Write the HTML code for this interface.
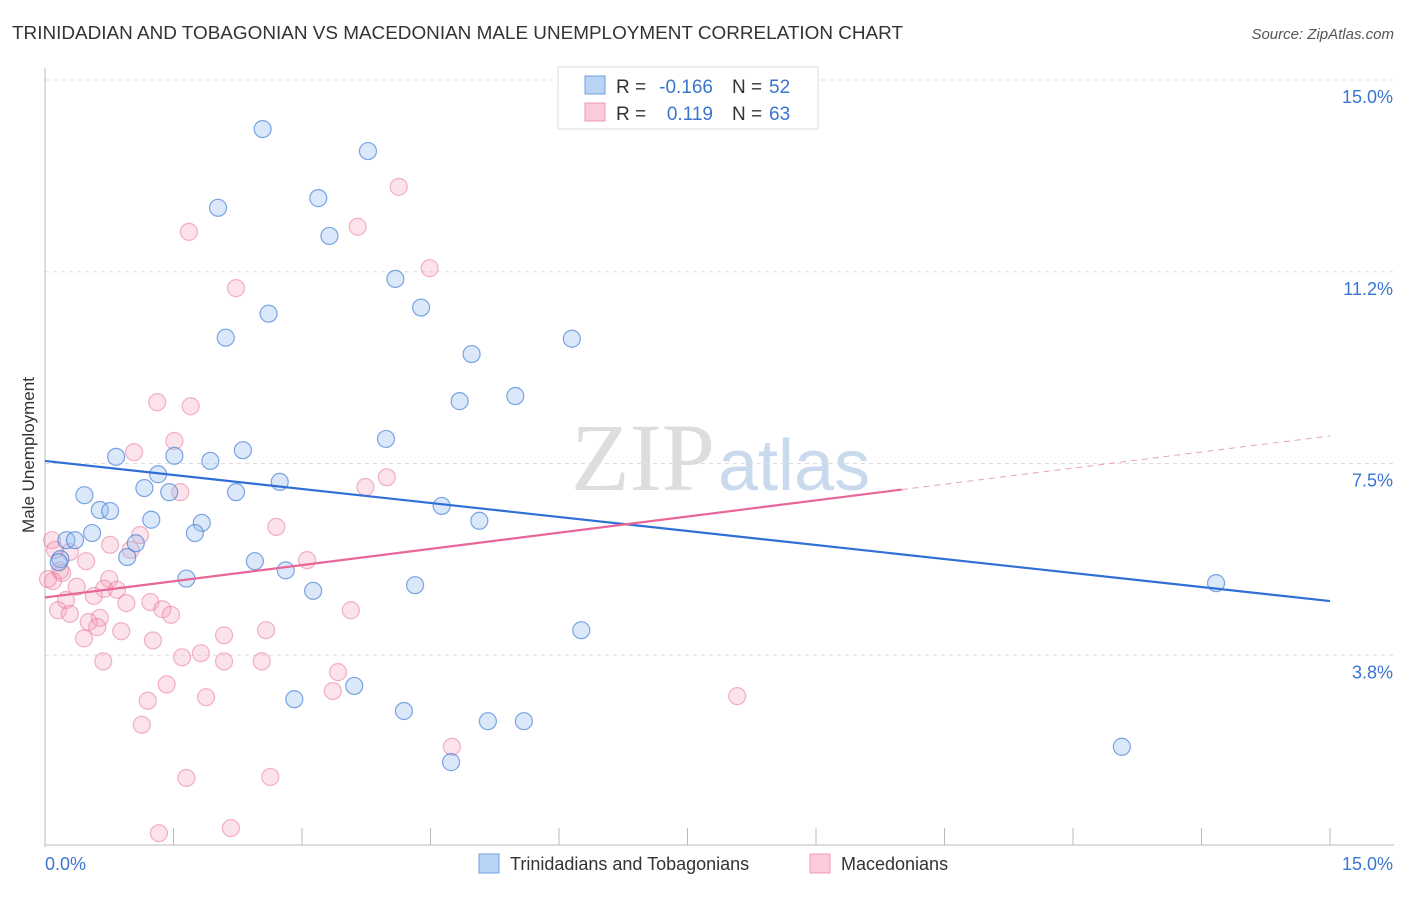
<!DOCTYPE html>
<html><head><meta charset="utf-8"><style>
body{margin:0;background:#fff;font-family:"Liberation Sans",sans-serif}
</style></head><body>
<svg width="1406" height="892" xmlns="http://www.w3.org/2000/svg" font-family="Liberation Sans, sans-serif">
<text x="12" y="39" font-size="18" fill="#333" textLength="891" lengthAdjust="spacingAndGlyphs">TRINIDADIAN AND TOBAGONIAN VS MACEDONIAN MALE UNEMPLOYMENT CORRELATION CHART</text>
<text x="1394" y="39" font-size="15" fill="#555" text-anchor="end" font-style="italic">Source: ZipAtlas.com</text>
<text x="715" y="490" font-size="96" fill="#ddd" text-anchor="end" font-family="Liberation Serif, serif">ZIP</text>
<text x="718" y="490" font-size="72" fill="#c9d9ee">atlas</text>
<g id="grid"></g>
<g id="axes"></g>
<g id="pts"></g>
<g id="lines"></g>
<text transform="translate(34,455) rotate(-90)" font-size="17" fill="#333" text-anchor="middle">Male Unemployment</text>
<g>
<rect x="558" y="67" width="260" height="62" fill="#fff" stroke="#ddd"/>
<rect x="585" y="76" width="20" height="18" fill="#b9d3f5" stroke="#6fa0e0"/>
<rect x="585" y="103" width="20" height="18" fill="#fbcbd9" stroke="#ee9ab4"/>
<text x="616" y="93" font-size="19" fill="#333">R =</text>
<text x="713" y="93" font-size="19" fill="#3a75d0" text-anchor="end">-0.166</text>
<text x="732" y="93" font-size="19" fill="#333">N =</text>
<text x="769" y="93" font-size="19" fill="#3a75d0">52</text>
<text x="616" y="120" font-size="19" fill="#333">R =</text>
<text x="713" y="120" font-size="19" fill="#3a75d0" text-anchor="end">0.119</text>
<text x="732" y="120" font-size="19" fill="#333">N =</text>
<text x="769" y="120" font-size="19" fill="#3a75d0">63</text>
</g>
<g>
<rect x="479" y="854" width="20" height="19" fill="#b9d3f5" stroke="#6fa0e0"/>
<text x="510" y="870" font-size="18" fill="#333">Trinidadians and Tobagonians</text>
<rect x="810" y="854" width="20" height="19" fill="#fbcbd9" stroke="#ee9ab4"/>
<text x="841" y="870" font-size="18" fill="#333">Macedonians</text>
</g>
</svg>
<script>
const yTicks=[15.0,11.25,7.5,3.75];
const yTickLabels=["15.0%","11.2%","7.5%","3.8%"];
const xTickLabels=["0.0%","15.0%"];
const blueX=[2.54,3.77,2.02,3.19,3.32,4.09,2.61,4.39,2.11,6.15,4.98,4.84,5.49,3.98,0.83,2.31,1.51,1.93,1.32,1.16,1.45,2.23,2.74,0.46,0.64,0.76,1.24,1.83,4.63,5.07,0.25,0.55,1.75,1.06,0.96,0.18,0.16,2.45,2.81,1.65,3.13,4.32,6.26,13.67,2.91,3.61,4.19,5.17,5.59,4.74,12.57,0.35];
const blueY=[14.04,13.61,12.5,12.69,11.95,11.11,10.43,10.55,9.96,9.94,9.64,8.72,8.82,7.98,7.63,7.76,7.65,7.55,7.29,7.02,6.94,6.94,7.14,6.88,6.59,6.57,6.4,6.34,6.67,6.38,6.0,6.14,6.14,5.94,5.67,5.63,5.57,5.59,5.41,5.25,5.01,5.12,4.24,5.16,2.89,3.15,2.66,2.46,2.46,1.66,1.96,6.0];
const pinkX=[4.13,3.65,1.68,4.49,2.23,1.31,1.7,1.51,1.04,1.58,3.74,3.99,2.7,0.082,1.11,0.76,1.0,0.29,0.117,0.48,3.06,0.2,0.75,0.37,0.69,0.84,0.57,0.245,0.95,1.23,1.37,1.47,0.152,0.29,0.64,0.51,0.61,0.89,2.58,2.09,1.26,0.455,1.82,1.6,2.09,2.53,0.68,3.42,1.42,3.36,1.88,1.2,8.08,1.13,4.75,1.65,2.63,1.33,2.17,3.57,0.093,0.035,0.175];
const pinkY=[12.91,12.13,12.03,11.32,10.93,8.7,8.62,7.94,7.72,6.94,7.04,7.23,6.26,6.0,6.1,5.91,5.81,5.77,5.81,5.59,5.61,5.36,5.24,5.09,5.05,5.03,4.91,4.83,4.77,4.79,4.65,4.54,4.63,4.56,4.48,4.4,4.3,4.22,4.24,4.14,4.04,4.08,3.79,3.71,3.63,3.63,3.63,3.42,3.18,3.05,2.93,2.86,2.95,2.39,1.96,1.35,1.37,0.27,0.37,4.63,5.2,5.24,5.41];
const blueTrend=[[0,7.55],[15,4.81]];
const pinkTrend=[[0,4.88],[10,6.99],[15,8.04]];
const X=v=>45+v*(1330-45)/15, Y=v=>847-v*(847-80)/15;
const NS="http://www.w3.org/2000/svg";
function mk(t,a,p){const e=document.createElementNS(NS,t);for(const k in a)e.setAttribute(k,a[k]);document.getElementById(p).appendChild(e);return e;}
yTicks.forEach((t,i)=>{
 const g=mk('line',{x1:45,x2:1394,y1:Y(t),y2:Y(t),stroke:'#ddd','stroke-dasharray':'4,4'},'grid');
 
 
 const l=mk('text',{x:1393,y:Y(t)+23,'font-size':18,fill:'#3a75d0','text-anchor':'end'},'axes');l.textContent=yTickLabels[i];
 
 
});
const ax=mk('line',{x1:45,x2:45,y1:68,y2:847,stroke:'#bbb'},'axes');


const bx=mk('line',{x1:45,x2:1394,y1:845,y2:845,stroke:'#bbb'},'axes');


for(let i=1;i<=10;i++){const t=mk('line',{x1:X(i*1.5),x2:X(i*1.5),y1:828,y2:845,stroke:'#bbb'},'axes');
 
 }
[[xTickLabels[0],45,'start'],[xTickLabels[1],1393,'end']].forEach(([s,x,a])=>{const l=mk('text',{x:x,y:870,'font-size':18,fill:'#3a75d0','text-anchor':a},'axes');l.textContent=s;
 
 });
pinkX.forEach((v,i)=>{const c=mk('circle',{cx:X(v),cy:Y(pinkY[i]),r:8.5,fill:'rgba(246,160,186,0.3)',stroke:'rgba(232,120,155,0.55)','stroke-width':1.2},'pts');
 
 });
blueX.forEach((v,i)=>{const c=mk('circle',{cx:X(v),cy:Y(blueY[i]),r:8.5,fill:'rgba(150,190,240,0.35)',stroke:'rgba(60,120,210,0.65)','stroke-width':1.2},'pts');
 
 });
const bl=mk('line',{x1:X(blueTrend[0][0]),y1:Y(blueTrend[0][1]),x2:X(blueTrend[1][0]),y2:Y(blueTrend[1][1]),stroke:'#2f6fd6','stroke-width':2.2},'lines');


const pl=mk('line',{x1:X(pinkTrend[0][0]),y1:Y(pinkTrend[0][1]),x2:X(pinkTrend[1][0]),y2:Y(pinkTrend[1][1]),stroke:'#e8669a','stroke-width':2.2},'lines');


const pd=mk('line',{x1:X(pinkTrend[1][0]),y1:Y(pinkTrend[1][1]),x2:X(pinkTrend[2][0]),y2:Y(pinkTrend[2][1]),stroke:'#e8a0bb','stroke-width':1,'stroke-dasharray':'6,5'},'lines');


</script>
</body></html>
